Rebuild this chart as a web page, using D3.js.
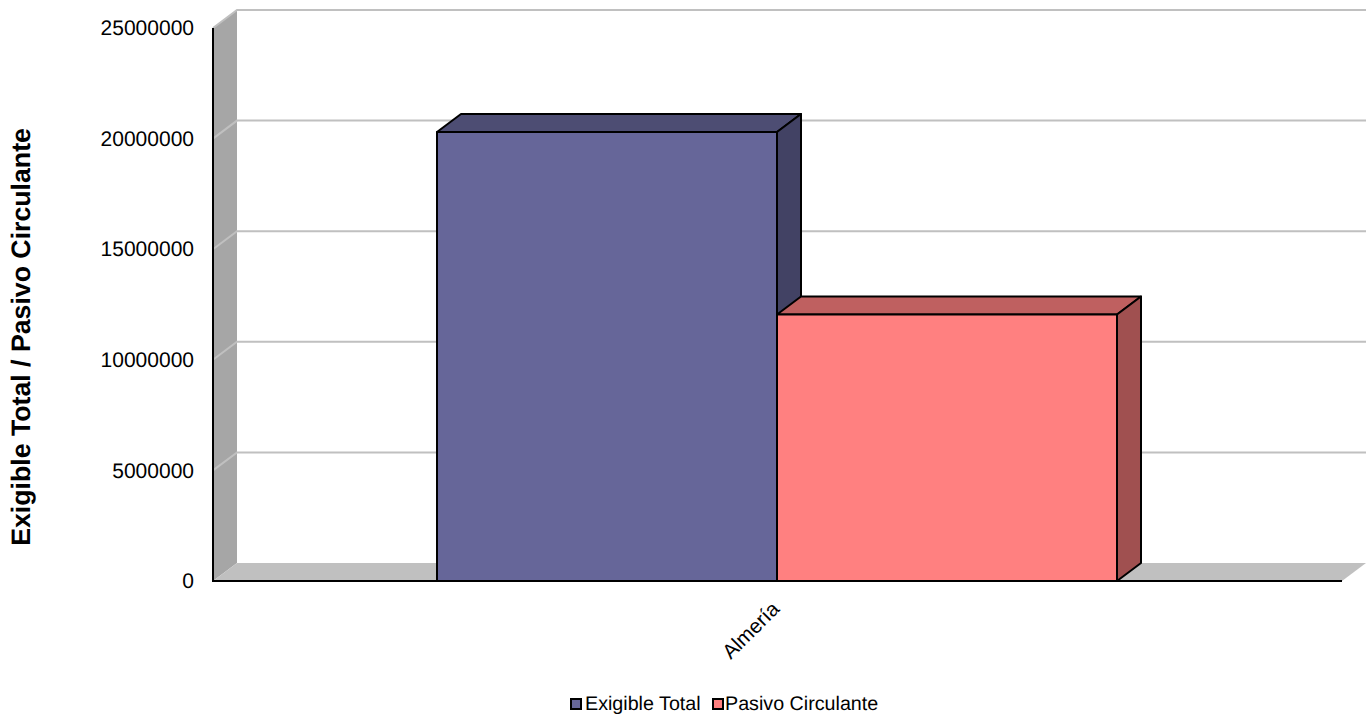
<!DOCTYPE html>
<html lang="en">
<head>
  <meta charset="UTF-8" />
  <title>Exigible Total / Pasivo Circulante</title>
  <script src="https://d3js.org/d3.v7.min.js"></script>
  <style>
    body { margin: 0; background: #fff; }
    svg { display: block; }
    text { font-family: "Liberation Sans", Arial, sans-serif; fill: #000; text-rendering: geometricPrecision; }
    .axis path, .axis line { display: none; }
  </style>
</head>
<body>
  <svg id="chart" width="1368" height="716"></svg>
  <script>
    const categories = ["Almería"];
    const seriesNames = ["Exigible Total", "Pasivo Circulante"];
    const seriesValues = [20300000, 12050000];
    const yTicks = [0, 5000000, 10000000, 15000000, 20000000, 25000000];
    const frontColors = ["#666699", "#ff8080"];
    const topColors = ["#4d4d73", "#bf6060"];
    const sideColors = ["#424264", "#a05050"];

    const svg = d3.select("#chart");
    const depthX = 24, depthY = 18;
    const plotLeft = 213, plotRight = 1342, plotTop = 28, plotBottom = 581;

    const y = d3.scaleLinear().domain([0, 25000000]).range([plotBottom, plotTop]);
    const x = d3.scaleBand().domain(categories).range([plotLeft, plotRight]);
    // bars fill about 60% of the category band
    const xSeries = d3.scaleBand().domain(seriesNames)
      .range([x(categories[0]) + 224, x(categories[0]) + x.bandwidth() - 225]);

    const poly = (pts, fill) => svg.append("polygon")
      .attr("points", pts.map(p => p.join(",")).join(" "))
      .attr("fill", fill);

    // left wall and floor
    poly([[plotLeft, plotTop], [plotLeft + depthX, plotTop - depthY], [plotLeft + depthX, plotBottom - depthY], [plotLeft, plotBottom]], "#a6a6a6");
    poly([[plotLeft, plotBottom], [plotLeft + depthX, plotBottom - depthY], [plotRight + depthX, plotBottom - depthY], [plotRight, plotBottom]], "#c0c0c0");

    // gridlines, back wall plus the slant over the left wall
    yTicks.forEach(t => {
      if (t === 0) return;
      svg.append("polyline")
        .attr("points", [[plotLeft, y(t)], [plotLeft + depthX, y(t) - depthY], [plotRight + depthX, y(t) - depthY]].map(p => p.join(",")).join(" "))
        .attr("fill", "none")
        .attr("stroke", "#c0c0c0")
        .attr("stroke-width", 2);
    });

    // bars
    seriesNames.forEach((name, i) => {
      const x0 = xSeries(name), x1 = x0 + xSeries.bandwidth(), yv = y(seriesValues[i]);
      const g = svg.append("g").attr("stroke", "#000").attr("stroke-width", 2).attr("stroke-linejoin", "round");
      g.append("polygon")
        .attr("points", `${x0},${yv} ${x0 + depthX},${yv - depthY} ${x1 + depthX},${yv - depthY} ${x1},${yv}`)
        .attr("fill", topColors[i]);
      g.append("polygon")
        .attr("points", `${x1},${yv} ${x1 + depthX},${yv - depthY} ${x1 + depthX},${plotBottom - depthY} ${x1},${plotBottom}`)
        .attr("fill", sideColors[i]);
      g.append("rect")
        .attr("x", x0).attr("y", yv)
        .attr("width", x1 - x0).attr("height", plotBottom - yv)
        .attr("fill", frontColors[i]);
    });

    // axis lines
    svg.append("line").attr("x1", plotLeft).attr("x2", plotLeft).attr("y1", plotTop).attr("y2", plotBottom + 1)
      .attr("stroke", "#000").attr("stroke-width", 2);
    svg.append("line").attr("x1", plotLeft).attr("x2", plotRight).attr("y1", plotBottom).attr("y2", plotBottom)
      .attr("stroke", "#000").attr("stroke-width", 2);

    // y tick labels
    const yAxis = d3.axisLeft(y).tickValues(yTicks).tickFormat(d3.format("d")).tickSize(0).tickPadding(19);
    svg.append("g").attr("class", "axis")
      .attr("transform", `translate(${plotLeft},0)`)
      .call(yAxis)
      .selectAll("text")
      .attr("font-size", 21)
      .style("font-family", '"Liberation Sans", Arial, sans-serif');

    // category label
    const xMid = x(categories[0]) + x.bandwidth() / 2;
    svg.append("text")
      .attr("transform", `translate(${xMid - 7},${plotBottom + 19}) rotate(-45)`)
      .attr("text-anchor", "end")
      .attr("dy", "0.7em")
      .attr("font-size", 20.5)
      .text(categories[0]);

    // y title
    svg.append("text")
      .attr("transform", "translate(30,337) rotate(-90)")
      .attr("text-anchor", "middle")
      .attr("font-size", 26.7)
      .attr("font-weight", "bold")
      .text("Exigible Total / Pasivo Circulante");

    // legend
    const legendX = [571, 713];
    const legendTextX = [585, 725];
    seriesNames.forEach((name, i) => {
      svg.append("rect")
        .attr("x", legendX[i]).attr("y", 699)
        .attr("width", 10).attr("height", 10)
        .attr("fill", frontColors[i])
        .attr("stroke", "#000").attr("stroke-width", 2);
      svg.append("text")
        .attr("x", legendTextX[i]).attr("y", 710)
        .attr("font-size", 19.7)
        .text(name);
    });
  </script>
</body>
</html>
